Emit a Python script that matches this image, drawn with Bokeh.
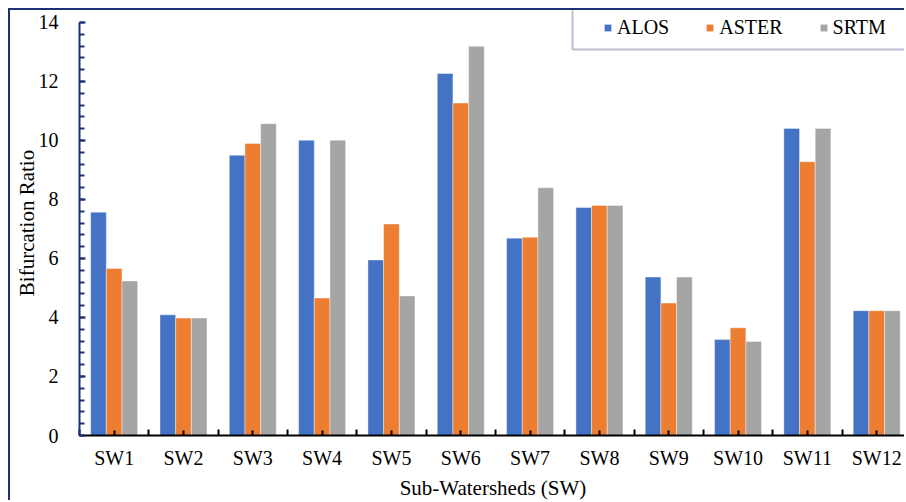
from bokeh.plotting import figure
from bokeh.models import (Range1d, FixedTicker, SingleIntervalTicker, BoxAnnotation,
                          Legend, LegendItem, ColumnDataSource)
from bokeh.transform import dodge
from bokeh.embed import file_html
from bokeh.resources import INLINE

# Bifurcation ratio per sub-watershed, from three DEM sources
watersheds = ["SW1", "SW2", "SW3", "SW4", "SW5", "SW6",
              "SW7", "SW8", "SW9", "SW10", "SW11", "SW12"]
alos = [7.57, 4.09, 9.50, 10.01, 5.95, 12.27, 6.69, 7.73, 5.37, 3.25, 10.41, 4.23]
aster = [5.66, 3.98, 9.90, 4.66, 7.17, 11.27, 6.72, 7.80, 4.49, 3.65, 9.28, 4.23]
srtm = [5.24, 3.98, 10.57, 10.01, 4.73, 13.19, 8.40, 7.80, 5.37, 3.19, 10.41, 4.23]
series = ["ALOS", "ASTER", "SRTM"]
colors = ["#4472C4", "#ED7D31", "#A5A5A5"]

FONT = "Liberation Serif"
NAVY = "#1f3070"

idx = list(range(len(watersheds)))
source = ColumnDataSource(dict(x=idx, ALOS=alos, ASTER=aster, SRTM=srtm))

# chart sits inside a navy frame (left and top edges visible)
p = figure(width=896, height=492, output_backend="svg", toolbar_location=None,
           x_range=Range1d(-0.5, 11.43), y_range=Range1d(0, 14.406),
           min_border_left=69, min_border_right=0, min_border_top=0,
           min_border_bottom=66,
           styles={"margin-left": "8px", "margin-top": "8px",
                   "border-left": f"2px solid {NAVY}",
                   "border-top": f"2px solid {NAVY}"})
p.outline_line_color = None
p.grid.visible = False

bar_w = 0.226
renderers = []
for k, (name, col) in enumerate(zip(series, colors)):
    r = p.vbar(x=dodge("x", (k - 1) * bar_w, range=p.x_range), top=name, width=bar_w,
               source=source, fill_color=col, line_color="white", line_alpha=0.5,
               line_width=0.8)
    renderers.append(r)

# x axis: labels at group centres, small ticks at group boundaries
xa = p.xaxis[0]
xa.ticker = FixedTicker(ticks=idx, minor_ticks=[i - 0.5 for i in range(len(idx) + 1)])
xa.major_label_overrides = {i: w for i, w in zip(idx, watersheds)}
xa.axis_line_color = "black"
xa.axis_line_width = 2
xa.major_tick_in = 5
xa.major_tick_out = 0
xa.minor_tick_in = 6
xa.minor_tick_out = 0
xa.major_tick_line_color = "black"
xa.minor_tick_line_color = "black"
xa.major_tick_line_width = 2
xa.minor_tick_line_width = 2
xa.major_label_text_font = FONT
xa.major_label_text_font_size = "20px"
xa.major_label_text_color = "black"
xa.major_label_standoff = 11
xa.axis_label = "Sub-Watersheds (SW)"
xa.axis_label_text_font = FONT
xa.axis_label_text_font_size = "21px"
xa.axis_label_text_font_style = "normal"
xa.axis_label_text_color = "black"
xa.axis_label_standoff = 4

ya = p.yaxis[0]
ya.ticker = SingleIntervalTicker(interval=2, num_minor_ticks=5)
ya.bounds = (0, 14)
ya.axis_line_color = NAVY
ya.axis_line_width = 2
ya.major_tick_in = 6
ya.major_tick_out = 0
ya.minor_tick_in = 5
ya.minor_tick_out = 0
ya.major_tick_line_color = NAVY
ya.minor_tick_line_color = NAVY
ya.major_tick_line_width = 2
ya.minor_tick_line_width = 2
ya.major_label_text_font = FONT
ya.major_label_text_font_size = "20px"
ya.major_label_text_color = "black"
ya.major_label_standoff = 21
ya.axis_label = "Bifurcation Ratio"
ya.axis_label_text_font = FONT
ya.axis_label_text_font_size = "21px"
ya.axis_label_text_font_style = "normal"
ya.axis_label_text_color = "black"
ya.axis_label_standoff = -3

# legend frame (its top edge merges with the outer frame)
p.add_layout(BoxAnnotation(left=560, right=1000, top=-5, bottom=37,
                           left_units="canvas", right_units="canvas",
                           top_units="canvas", bottom_units="canvas",
                           fill_color=None, fill_alpha=0,
                           line_color=NAVY, line_width=2))

legend = Legend(items=[LegendItem(label=n, renderers=[r]) for n, r in zip(series, renderers)],
                orientation="horizontal", location=(524, 396),
                glyph_width=9, glyph_height=9, label_standoff=5, spacing=36,
                padding=0, margin=0, border_line_alpha=0, background_fill_alpha=0,
                label_text_font=FONT, label_text_font_size="20px",
                label_text_color="black", label_height=20)
p.add_layout(legend, "center")

open("out.html", "w").write(file_html(p, INLINE))
